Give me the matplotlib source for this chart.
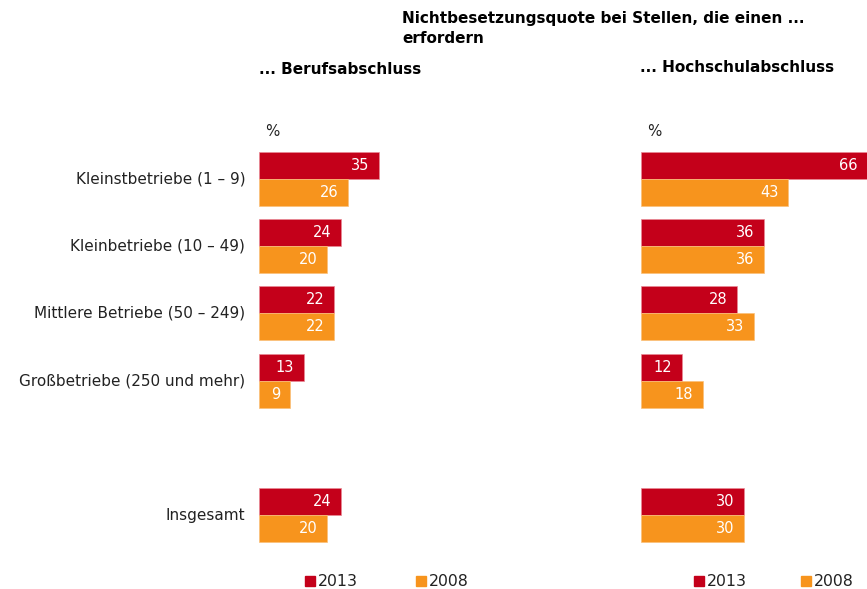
import numpy as np
import matplotlib.pyplot as plt
from matplotlib.patches import Rectangle

categories = ["Kleinstbetriebe (1 – 9)", "Kleinbetriebe (10 – 49)",
              "Mittlere Betriebe (50 – 249)", "Großbetriebe (250 und mehr)",
              "Insgesamt"]
beruf_2013 = [35, 24, 22, 13, 24]
beruf_2008 = [26, 20, 22, 9, 20]
hoch_2013 = [66, 36, 28, 12, 30]
hoch_2008 = [43, 36, 33, 18, 30]
years = ["2013", "2008"]

RED = "#C4001A"
ORANGE = "#F7941D"
W, H = 867, 589

fig = plt.figure(figsize=(W / 100, H / 100), dpi=100)
plt.rcParams['font.family'] = ['DejaVu Sans']


def fx(x):
    return x / W


def fy(y):
    return 1 - y / H


# row positions; gap before "Insgesamt"
ypos = np.array([0, 1, 2, 3, 5])
bh = 0.40
top_px, bot_px = 140, 560
ylim = (5 + (bot_px - 515.5) / 67, -(178.5 - top_px) / 67)


def panel(x0, v13, v08):
    ax = fig.add_axes([fx(x0), fy(bot_px), 226 / W, (bot_px - top_px) / H])
    ax.barh(ypos - bh / 2, v13, height=bh, color=RED, edgecolor="#e98a95", linewidth=0.5)
    ax.barh(ypos + bh / 2, v08, height=bh, color=ORANGE, edgecolor="#fbc07a", linewidth=0.5)
    for y, a, b in zip(ypos, v13, v08):
        ax.text(a - 2.8, y - bh / 2, str(a), ha="right", va="center",
                color="white", fontsize=10.5)
        ax.text(b - 2.8, y + bh / 2, str(b), ha="right", va="center",
                color="white", fontsize=10.5)
    ax.set_xlim(0, 66)
    ax.set_ylim(*ylim)
    ax.axis("off")
    return ax


ax1 = panel(259, beruf_2013, beruf_2008)
ax2 = panel(641, hoch_2013, hoch_2008)

for y, lab in zip(ypos, categories):
    ax1.text(-4, y, lab, ha="right", va="center", fontsize=11, color="#222222")

fig.text(fx(402), fy(11), "Nichtbesetzungsquote bei Stellen, die einen ...\nerfordern",
         ha="left", va="top", fontsize=11, fontweight="bold", linespacing=1.45)
fig.text(fx(259), fy(69), "... Berufsabschluss", ha="left", va="center",
         fontsize=11, fontweight="bold")
fig.text(fx(640), fy(68), "... Hochschulabschluss", ha="left", va="center",
         fontsize=11, fontweight="bold")
fig.text(fx(265), fy(131), "%", ha="left", va="center", fontsize=10.8, color="#222222")
fig.text(fx(647), fy(131), "%", ha="left", va="center", fontsize=10.8, color="#222222")

# legends
for sq13, sq08 in [(305, 416), (694, 801)]:
    for sx, col, lab in [(sq13, RED, years[0]), (sq08, ORANGE, years[1])]:
        fig.patches.append(Rectangle((fx(sx), fy(586)), 10 / W, 10 / H, color=col,
                                     transform=fig.transFigure, figure=fig))
        fig.text(fx(sx + 13), fy(581), lab, ha="left", va="center", fontsize=11.3,
                 color="#222222")

fig.savefig("out.png", dpi=100)
